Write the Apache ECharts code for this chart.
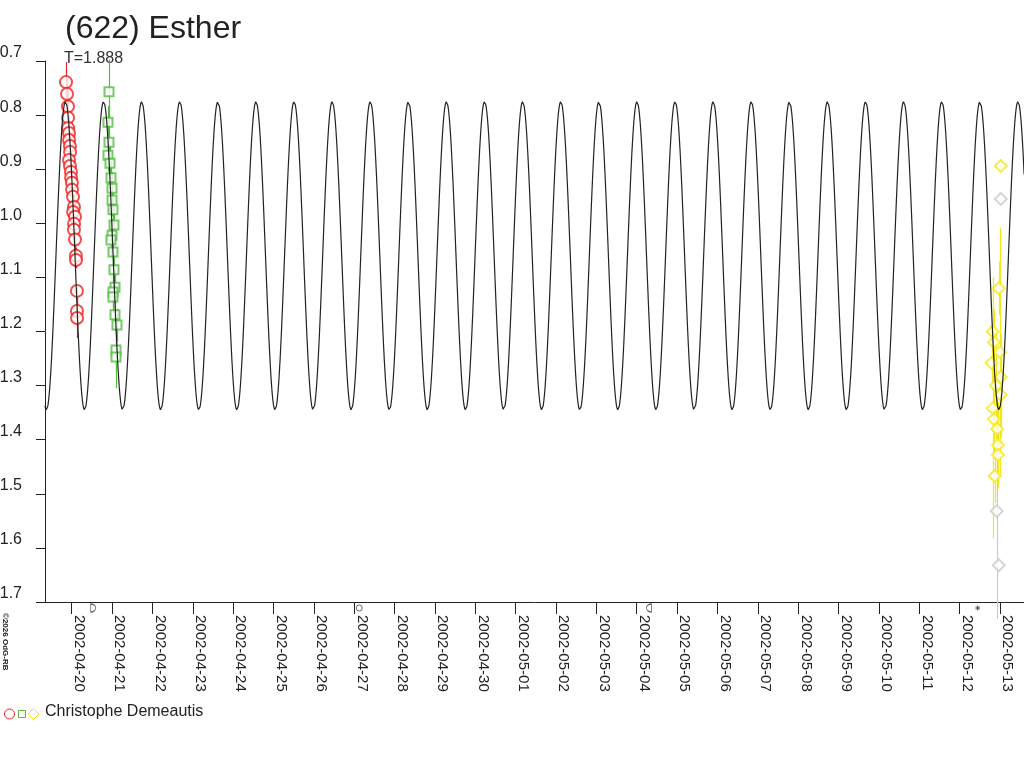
<!DOCTYPE html>
<html>
<head>
<meta charset="utf-8">
<title>(622) Esther</title>
<script src="https://cdn.jsdelivr.net/npm/echarts@6.0.0/dist/echarts.min.js"></script>
<style>
  html, body { margin: 0; padding: 0; background: #fff; }
  #chart { width: 1024px; height: 768px; }
</style>
</head>
<body>
<div id="chart"></div>
<script>
// times are days since 2002-04-20 00:00 UT
const EPOCH = Date.UTC(2002, 3, 20);

const tickDates = [
  '2002-04-20', '2002-04-21', '2002-04-22', '2002-04-23', '2002-04-24', '2002-04-25',
  '2002-04-26', '2002-04-27', '2002-04-28', '2002-04-29', '2002-04-30', '2002-05-01',
  '2002-05-02', '2002-05-03', '2002-05-04', '2002-05-05', '2002-05-06', '2002-05-07',
  '2002-05-08', '2002-05-09', '2002-05-10', '2002-05-11', '2002-05-12', '2002-05-13'
];

// session 1 (red circles)
const redT = [-0.141, -0.116, -0.092, -0.090, -0.088, -0.067, -0.065, -0.044, -0.040, -0.066,
  -0.042, -0.018, -0.016, 0.006, 0.009, 0.032, 0.057, 0.034, 0.082, 0.058, 0.056, 0.082,
  0.104, 0.107, 0.130, 0.131, 0.133];
const redMag = [0.739, 0.761, 0.784, 0.805, 0.824, 0.833, 0.846, 0.857, 0.868, 0.883,
  0.894, 0.905, 0.916, 0.925, 0.938, 0.951, 0.970, 0.979, 0.988, 1.001, 1.012, 1.030,
  1.060, 1.068, 1.125, 1.162, 1.175];
const redErr = [0.037, 0.03, 0.03, 0.03, 0.03, 0.03, 0.03, 0.03, 0.03, 0.03,
  0.03, 0.03, 0.03, 0.03, 0.03, 0.03, 0.03, 0.03, 0.03, 0.03, 0.03, 0.03,
  0.015, 0.015, 0.006, 0.03, 0.037];

// session 2 (green squares)
const greenT = [0.924, 0.899, 0.924, 0.899, 0.949, 0.974, 0.999, 0.999, 1.023, 1.048,
  0.999, 0.974, 1.023, 1.048, 1.073, 1.023, 1.023, 1.073, 1.122, 1.098, 1.098];
const greenMag = [0.757, 0.813, 0.850, 0.874, 0.889, 0.916, 0.935, 0.957, 0.975, 1.003,
  1.022, 1.031, 1.053, 1.086, 1.118, 1.127, 1.136, 1.169, 1.188, 1.234, 1.247];
const greenErr = [0.06, 0.03, 0.03, 0.03, 0.03, 0.03, 0.03, 0.03, 0.03, 0.03,
  0.03, 0.03, 0.03, 0.03, 0.03, 0.03, 0.03, 0.03, 0.03, 0.04, 0.058];

// session 3 (yellow diamonds)
const yellowT = [23.02, 22.97, 22.82, 22.85, 23.00, 22.79, 23.02, 23.02, 22.82, 22.85,
  22.95, 22.95, 22.87, 22.90, 22.93];
const yellowMag = [0.894, 1.120, 1.200, 1.220, 1.238, 1.258, 1.284, 1.317, 1.342, 1.362,
  1.410, 1.428, 1.467, 1.300, 1.380];
const yellowErr = [0.0, 0.05, 0.1, 0.06, 0.23, 0.05, 0.08, 0.08, 0.24, 0.06,
  0.08, 0.06, 0.05, 0.1, 0.1];

// rejected points (grey diamonds)
const greyT = [23.02, 22.92, 22.97];
const greyMag = [0.955, 1.532, 1.632];
const greyErr = [0.0, 0.2, 0.0];

// moon phases: first quarter, full, last quarter, new
const moonT = [0.533, 7.125, 14.303, 22.448];

// lightcurve fit
const period = 1.888;
const faintEpoch = 22.03;
const magMean = 1.06;
const magAmp = 0.285;

const yTicks = [0.7, 0.8, 0.9, 1.0, 1.1, 1.2, 1.3, 1.4, 1.5, 1.6, 1.7];

const xMin = -0.6615, xMax = 23.595;

const tickValues = tickDates.map(d => (Date.parse(d) - EPOCH) / 86400000);

const curve = [];
for (let t = xMin; t <= xMax + 0.01; t += 0.01) {
  curve.push([t, magMean + magAmp * Math.cos(2 * Math.PI * (t - faintEpoch) / (period / 2))]);
}

const RED = '#ee2222', GREEN = '#55bb44', YELLOW = '#f5e81a', GREY = '#cccccc';

function zip(ts, ms, es) {
  return ts.map((t, i) => [t, ms[i], es ? es[i] : 0]);
}

function errorBars(ts, ms, es, color) {
  return {
    type: 'custom',
    silent: true,
    z: 1,
    data: zip(ts, ms, es),
    renderItem: function (params, api) {
      const t = api.value(0), m = api.value(1), e = api.value(2);
      const a = api.coord([t, m - e]);
      const b = api.coord([t, m + e]);
      return {
        type: 'line',
        shape: { x1: Math.round(a[0]) + 0.5, y1: a[1], x2: Math.round(b[0]) + 0.5, y2: b[1] },
        style: { stroke: color, lineWidth: 1.2 }
      };
    }
  };
}

function points(ts, ms, symbol, size, color) {
  return {
    type: 'scatter',
    silent: true,
    z: 3,
    symbol: symbol,
    symbolSize: size,
    itemStyle: { color: color, borderColor: color, borderWidth: 1 },
    data: zip(ts, ms)
  };
}

const chart = echarts.init(document.getElementById('chart'));

const FONT = 'Liberation Sans, Arial, sans-serif';

chart.setOption({
  animation: false,
  backgroundColor: '#fff',
  textStyle: { fontFamily: FONT },
  grid: { left: 45, right: 0, top: 61, bottom: 166, outerBoundsMode: 'none', containLabel: false },
  xAxis: {
    type: 'value',
    min: xMin,
    max: xMax,
    axisLine: { show: true, onZero: false, lineStyle: { color: '#222', width: 1 } },
    axisTick: { show: true, length: 12, customValues: tickValues, lineStyle: { color: '#222' } },
    axisLabel: {
      customValues: tickValues,
      rotate: -90,
      margin: 13,
      verticalAlign: 'bottom',
      fontSize: 15,
      color: '#222',
      fontFamily: FONT,
      formatter: v => tickDates[Math.round(v)]
    },
    splitLine: { show: false }
  },
  yAxis: {
    type: 'value',
    inverse: true,
    min: 0.7,
    max: 1.7,
    interval: 0.1,
    axisLine: { show: true, onZero: false, lineStyle: { color: '#222', width: 1 } },
    axisTick: { show: true, length: 9, customValues: yTicks, lineStyle: { color: '#222' } },
    axisLabel: {
      customValues: yTicks,
      margin: 23,
      fontSize: 16,
      color: '#222',
      verticalAlign: 'bottom',
      fontFamily: FONT,
      formatter: v => v.toFixed(1)
    },
    splitLine: { show: false }
  },
  series: [
    errorBars(redT, redMag, redErr, RED),
    errorBars(greenT, greenMag, greenErr, GREEN),
    errorBars(yellowT, yellowMag, yellowErr, YELLOW),
    errorBars(greyT, greyMag, greyErr, GREY),
    points(redT, redMag, 'emptyCircle', 12, RED),
    points(greenT, greenMag, 'emptyRect', 9, GREEN),
    points(yellowT, yellowMag, 'emptyDiamond', 12, YELLOW),
    points(greyT, greyMag, 'emptyDiamond', 12, GREY),
    {
      type: 'line',
      silent: true,
      z: 4,
      showSymbol: false,
      symbol: 'none',
      lineStyle: { color: '#222', width: 1.2 },
      data: curve
    },
    {
      type: 'scatter',
      silent: true,
      clip: false,
      z: 5,
      symbolOffset: [0, 6],
      itemStyle: { color: 'transparent', borderColor: '#444', borderWidth: 1 },
      data: [
        { value: [moonT[0], 1.7], symbol: 'path://M0,0 L0,10 A5,5 0 0,0 0,0 Z', symbolSize: [5, 8] },
        { value: [moonT[1], 1.7], symbol: 'circle', symbolSize: 6 },
        { value: [moonT[2], 1.7], symbol: 'path://M5,0 L5,10 A5,5 0 0,1 5,0 Z', symbolSize: [5, 8] },
        { value: [moonT[3], 1.7], symbol: 'path://M5,0 L5,10 M0,5 L10,5 M1.5,1.5 L8.5,8.5 M1.5,8.5 L8.5,1.5', symbolSize: 5 }
      ]
    }
  ],
  graphic: [
    { type: 'text', left: 65, top: 13, style: { text: '(622) Esther', font: '32px ' + FONT, fill: '#222' } },
    { type: 'text', left: 64, top: 51, style: { text: 'T=1.888', font: '16px ' + FONT, fill: '#333' } },
    {
      type: 'text', x: 1, y: 613, rotation: -Math.PI / 2,
      style: { text: '\u00a92026 OdG-RB', font: 'bold 8px ' + FONT, fill: '#222', verticalAlign: 'bottom', align: 'left' }
    },
    { type: 'circle', shape: { cx: 9.5, cy: 714, r: 5 }, style: { fill: 'none', stroke: RED, lineWidth: 1 } },
    { type: 'rect', shape: { x: 18.5, y: 710.5, width: 7, height: 7 }, style: { fill: 'none', stroke: GREEN, lineWidth: 1 } },
    {
      type: 'polygon', shape: { points: [[33.5, 708.5], [39, 714], [33.5, 719.5], [28, 714]] },
      style: { fill: 'none', stroke: YELLOW, lineWidth: 1 }
    },
    { type: 'text', left: 45, top: 704, style: { text: 'Christophe Demeautis', font: '16px ' + FONT, fill: '#222' } }
  ]
});
</script>
</body>
</html>
